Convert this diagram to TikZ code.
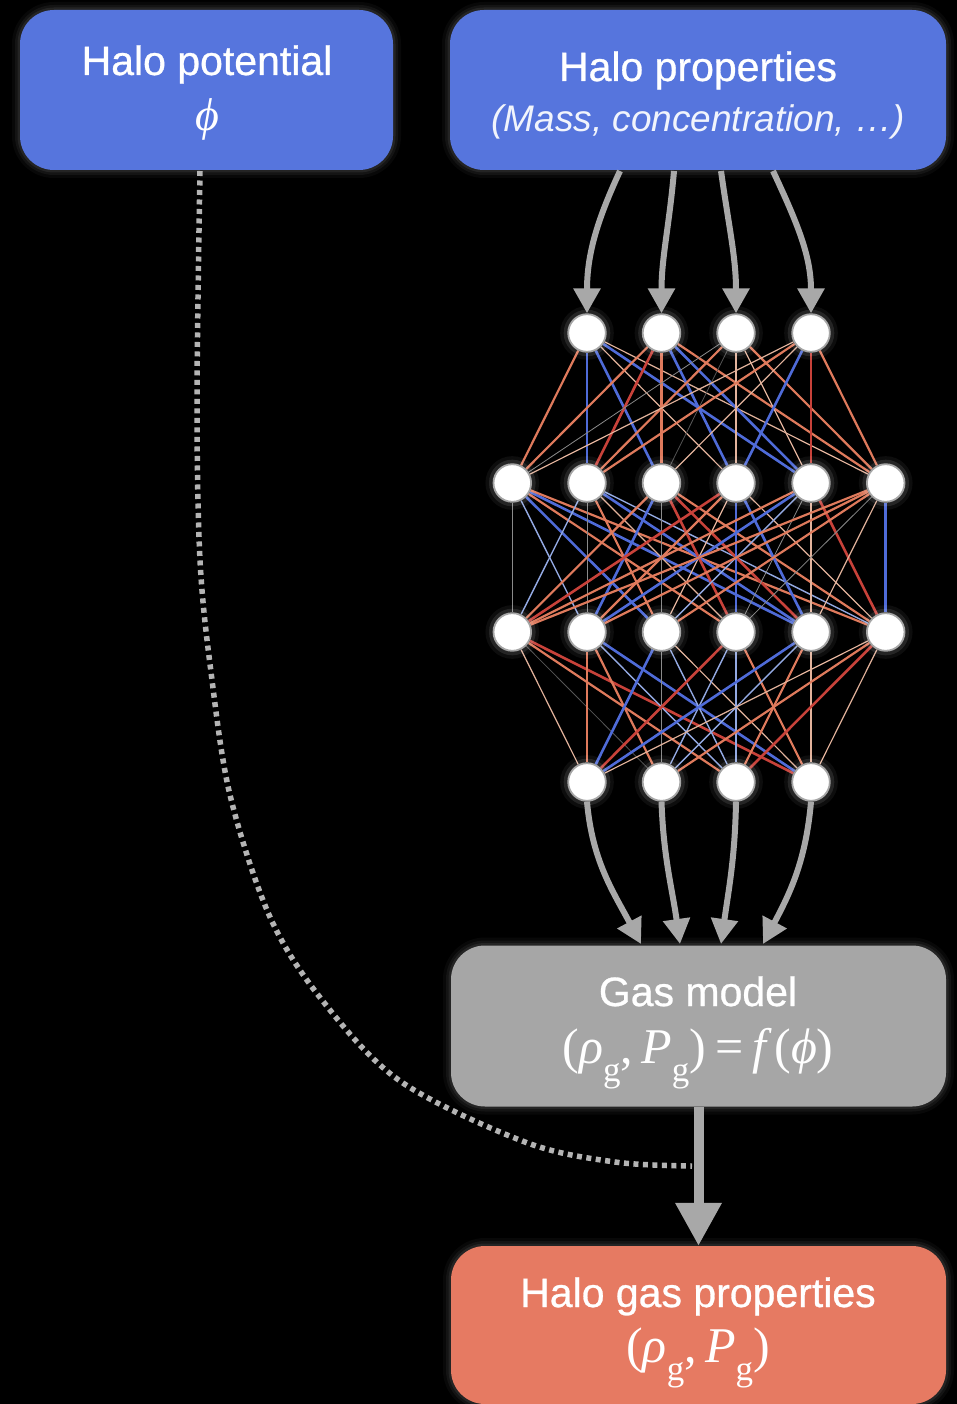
\documentclass[tikz,border=0pt]{standalone}
\usepackage{fontspec}
\setmainfont{Liberation Sans}
\newfontfamily\medsans{Liberation Sans}[FakeBold=0.7]
\newfontfamily\mserif{Liberation Serif}
\usetikzlibrary{arrows.meta}
\pgfdeclarelayer{canvas}
\pgfdeclarelayer{bg}
\pgfsetlayers{canvas,bg,main}
\definecolor{hblue}{HTML}{5675DD}
\definecolor{hgray}{HTML}{A6A6A6}
\definecolor{horange}{HTML}{E67A62}
\definecolor{ered}{HTML}{C8423A}
\definecolor{esal}{HTML}{DF7A5C}
\definecolor{epeach}{HTML}{E3B39C}
\definecolor{eblue}{HTML}{4F6BD8}
\definecolor{elblue}{HTML}{93A9E2}
\definecolor{egray}{HTML}{8A8A8A}
\definecolor{edgray}{HTML}{555555}
\definecolor{arrgray}{HTML}{A8A8A8}
\definecolor{dotgray}{HTML}{B4B4B4}
\newcommand\nnE[3]{\draw[#1] (#2) -- (#3);}
\newcommand\gsub[1]{\raisebox{-0.36em}{\fontsize{35}{35}\selectfont #1}}
\tikzset{
  glow/.style={preaction={draw=white,opacity=0.03,line width=16pt},preaction={draw=white,opacity=0.05,line width=10pt},preaction={draw=white,opacity=0.07,line width=5pt}},
  box/.style={rounded corners=34pt,inner sep=0pt,glow},
  neuron/.style={circle,minimum size=37.6pt,inner sep=0pt,fill=white,draw=gray!70,line width=1.8pt,
     preaction={draw=white,opacity=0.05,line width=16pt},preaction={draw=white,opacity=0.10,line width=9pt}},
  ttl/.style={anchor=base,text=white,font=\medsans\fontsize{41}{48}\selectfont,inner sep=0pt},
  sub/.style={anchor=base,text=white!92!hblue,font=\itshape\fontsize{37}{44}\selectfont,inner sep=0pt},
  frm/.style={anchor=base,text=white,font=\mserif\fontsize{50}{56}\selectfont,inner sep=0pt},
  arr/.style={draw=arrgray,line width=6pt,-{Triangle[width=26pt,length=25pt]}},
  bigarr/.style={draw=arrgray,line width=10pt,-{Triangle[width=44pt,length=43pt]}},
  dots/.style={draw=dotgray,line width=5.5pt,dash pattern=on 5pt off 4.5pt},
  er/.style={ered,line width=2.6pt},
  es/.style={esal,line width=2.2pt},
  ep/.style={epeach,line width=1.2pt},
  eb/.style={eblue,line width=2.6pt},
  el/.style={elblue,line width=1.4pt},
  eg/.style={egray,line width=0.8pt},
  ed/.style={edgray,line width=0.8pt},
}
\begin{document}
\begin{tikzpicture}[x=1pt,y=-1pt]
\begin{pgfonlayer}{canvas}
\fill[black] (0,0) rectangle (957,1404);
\end{pgfonlayer}
\useasboundingbox (0,0) rectangle (957,1404);
\clip (0,0) rectangle (957,1404);

% boxes
\node[box,fill=hblue,minimum width=373pt,minimum height=160pt] (pot) at (206.5,90) {};
\node[box,fill=hblue,minimum width=496pt,minimum height=160pt] (props) at (698,90) {};
\node[box,fill=hgray,minimum width=495pt,minimum height=161pt] (gas) at (698.5,1026) {};
\node[box,fill=horange,minimum width=495pt,minimum height=158pt] (hgas) at (698.5,1325) {};

% texts
\node[ttl] (potT1) at (207,75) {Halo potential};
\node[frm,font=\mserif\fontsize{46}{52}\selectfont] (potT2) at (207,131) {\textit{ϕ}};
\node[ttl] (propT1) at (698,81) {Halo properties};
\node[sub] (propT2) at (698,132) {(Mass, concentration, …)};
\node[ttl] (gasT1) at (698,1006) {Gas model};
\node[frm] (gasT2) at (698,1063) {(\textit{ρ}\gsub{g},\,\textit{P}\gsub{g})\hspace{0.18em}=\hspace{0.18em}\textit{f\,}(\textit{ϕ})};
\node[ttl] (hgT1) at (698,1307) {Halo gas properties};
\node[frm] (hgT2) at (698,1362) {(\textit{ρ}\gsub{g},\,\textit{P}\gsub{g})};

% neurons
\foreach \n/\x in {1/587,2/661.5,3/736,4/811} {
  \node[neuron] (i\n) at (\x,333) {};
  \node[neuron] (o\n) at (\x,782) {};
}
\foreach \n/\x in {1/512.3,2/587,3/661.5,4/736,5/811,6/885.7} {
  \node[neuron] (h\n) at (\x,483) {};
  \node[neuron] (k\n) at (\x,632) {};
}

\begin{pgfonlayer}{bg}
% layer 1 -> 2
\nnE{es}{i1}{h1}\nnE{eb}{i1}{h2}\nnE{eb}{i1}{h3}\nnE{ep}{i1}{h4}\nnE{eb}{i1}{h5}\nnE{ep}{i1}{h6}
\nnE{es}{i2}{h1}\nnE{er}{i2}{h2}\nnE{es}{i2}{h3}\nnE{eb}{i2}{h4}\nnE{eb}{i2}{h5}\nnE{es}{i2}{h6}
\nnE{eg}{i3}{h1}\nnE{es}{i3}{h2}\nnE{ed}{i3}{h3}\nnE{ep}{i3}{h4}\nnE{ep}{i3}{h5}\nnE{es}{i3}{h6}
\nnE{ep}{i4}{h1}\nnE{es}{i4}{h2}\nnE{ep}{i4}{h3}\nnE{eb}{i4}{h4}\nnE{er}{i4}{h5}\nnE{es}{i4}{h6}
% layer 2 -> 3
\nnE{eg}{h1}{k1}\nnE{el}{h1}{k2}\nnE{eb}{h1}{k3}\nnE{es}{h1}{k4}\nnE{eb}{h1}{k5}\nnE{es}{h1}{k6}
\nnE{el}{h2}{k1}\nnE{eg}{h2}{k2}\nnE{es}{h2}{k3}\nnE{ep}{h2}{k4}\nnE{eb}{h2}{k5}\nnE{el}{h2}{k6}
\nnE{es}{h3}{k1}\nnE{eb}{h3}{k2}\nnE{eg}{h3}{k3}\nnE{er}{h3}{k4}\nnE{er}{h3}{k5}\nnE{es}{h3}{k6}
\nnE{er}{h4}{k1}\nnE{es}{h4}{k2}\nnE{ep}{h4}{k3}\nnE{eb}{h4}{k4}\nnE{eb}{h4}{k5}\nnE{ep}{h4}{k6}
\nnE{es}{h5}{k1}\nnE{eb}{h5}{k2}\nnE{el}{h5}{k3}\nnE{eg}{h5}{k4}\nnE{ep}{h5}{k5}\nnE{er}{h5}{k6}
\nnE{es}{h6}{k1}\nnE{es}{h6}{k2}\nnE{es}{h6}{k3}\nnE{eg}{h6}{k4}\nnE{ep}{h6}{k5}\nnE{eb}{h6}{k6}
% layer 3 -> 4
\nnE{ep}{k1}{o1}\nnE{ed}{k1}{o2}\nnE{es}{k1}{o3}\nnE{er}{k1}{o4}
\nnE{es}{k2}{o1}\nnE{es}{k2}{o2}\nnE{el}{k2}{o3}\nnE{eb}{k2}{o4}
\nnE{eb}{k3}{o1}\nnE{eg}{k3}{o2}\nnE{el}{k3}{o3}\nnE{ep}{k3}{o4}
\nnE{er}{k4}{o1}\nnE{el}{k4}{o2}\nnE{el}{k4}{o3}\nnE{es}{k4}{o4}
\nnE{eb}{k5}{o1}\nnE{el}{k5}{o2}\nnE{es}{k5}{o3}\nnE{ep}{k5}{o4}
\nnE{ep}{k6}{o1}\nnE{es}{k6}{o2}\nnE{er}{k6}{o3}\nnE{ep}{k6}{o4}
\end{pgfonlayer}

% input arrows
\coordinate (s1) at (620,171);
\coordinate (s2) at (674,171);
\coordinate (s3) at (721,171);
\coordinate (s4) at (773,171);
\draw[arr] (s1) to[out=-115,in=90] (i1.north);
\draw[arr] (s2) to[out=-95,in=90] (i2.north);
\draw[arr] (s3) to[out=-82,in=90] (i3.north);
\draw[arr] (s4) to[out=-65,in=90] (i4.north);

% output arrows
\coordinate (t1) at (641,944);
\coordinate (t2) at (680,944);
\coordinate (t3) at (721,944);
\coordinate (t4) at (763,944);
\draw[arr] (o1.south) to[out=-85,in=118] (t1);
\draw[arr] (o2.south) to[out=-88,in=98] (t2);
\draw[arr] (o3.south) to[out=-91,in=82] (t3);
\draw[arr] (o4.south) to[out=-95,in=62] (t4);

% gas model -> halo gas
\draw[bigarr] (gas.south) -- (hgas.north);

% dotted potential link
\coordinate (d0) at (200,171);
\coordinate (dj) at (692,1166);
\draw[dots] plot[smooth,tension=0.55] coordinates {(d0) (197,400) (200,560) (211,672) (230,795) (270,917) (322,1000) (400,1081) (525,1142) (615,1162) (dj)};
\end{tikzpicture}
\end{document}
